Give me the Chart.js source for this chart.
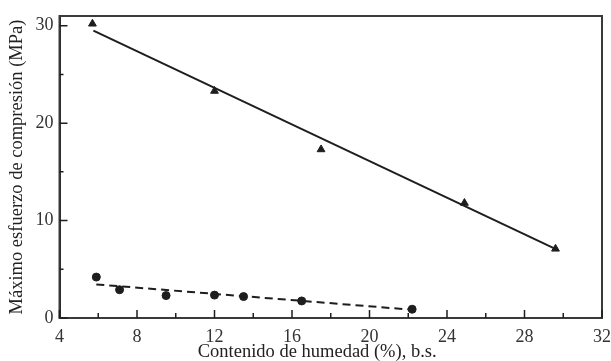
<!DOCTYPE html>
<html>
<head>
<meta charset="utf-8">
<script src="https://cdn.jsdelivr.net/npm/chart.js@4.4.1/dist/chart.umd.min.js"></script>
<style>
  html, body { margin: 0; padding: 0; background: #fff; }
  #wrap { width: 611px; height: 361px; }
</style>
</head>
<body>
<div id="wrap"><canvas id="chart" width="611" height="361"></canvas></div>
<script>
// triangles: measured points and fitted line
const triX = [5.7, 12.0, 17.5, 24.9, 29.6];
const triY = [30.2, 23.3, 17.3, 11.8, 7.1];
const fitTriX = [5.75, 29.7];
const fitTriY = [29.5, 7.0];

// circles: measured points and fitted dashed line
const dotX = [5.9, 7.1, 9.5, 12.0, 13.5, 16.5, 22.2];
const dotY = [4.2, 2.9, 2.3, 2.35, 2.2, 1.75, 0.9];
const fitDotX = [5.9, 22.2];
const fitDotY = [3.45, 0.85];

// axis ticks
const xMajor = [4, 8, 12, 16, 20, 24, 28, 32];
const xMinor = [6, 10, 14, 18, 22, 26, 30];
const yMajor = [0, 10, 20, 30];
const yMinor = [5, 15, 25];

const xTitle = "Contenido de humedad (%), b.s.";
const yTitle = "Máximo esfuerzo de compresión (MPa)";

const ink = "#1e1e1e";
const serif = "'Liberation Serif', 'DejaVu Serif', serif";

function toPoints(xs, ys) {
  return xs.map((x, i) => ({ x: x, y: ys[i] }));
}

// frame on top/right, inward tick marks, and the x title (sits left of the axis centre)
const frameTicks = {
  id: "frameTicks",
  afterDraw(chart) {
    const ctx = chart.ctx;
    const area = chart.chartArea;
    const xs = chart.scales.x;
    const ys = chart.scales.y;
    ctx.save();
    ctx.strokeStyle = "#3a3a3a";
    ctx.lineWidth = 2;
    ctx.strokeRect(area.left, area.top, area.right - area.left, area.bottom - area.top);

    ctx.strokeStyle = ink;
    ctx.lineWidth = 1.5;
    ctx.beginPath();
    xMajor.forEach((v) => {
      const px = xs.getPixelForValue(v);
      ctx.moveTo(px, area.bottom);
      ctx.lineTo(px, area.bottom - 8);
    });
    xMinor.forEach((v) => {
      const px = xs.getPixelForValue(v);
      ctx.moveTo(px, area.bottom);
      ctx.lineTo(px, area.bottom - 5);
    });
    yMajor.forEach((v) => {
      const py = ys.getPixelForValue(v);
      ctx.moveTo(area.left, py);
      ctx.lineTo(area.left + 8, py);
    });
    yMinor.forEach((v) => {
      const py = ys.getPixelForValue(v);
      ctx.moveTo(area.left, py);
      ctx.lineTo(area.left + 4, py);
    });
    ctx.stroke();

    ctx.fillStyle = "#222";
    ctx.font = "18.5px " + serif;
    ctx.textAlign = "center";
    ctx.textBaseline = "middle";
    ctx.fillText(xTitle, xs.getPixelForValue(17.3), 352);
    ctx.restore();
  }
};

new Chart(document.querySelector("#chart"), {
  type: "scatter",
  data: {
    datasets: [
      {
        data: toPoints(fitTriX, fitTriY),
        showLine: true,
        borderColor: ink,
        borderWidth: 2,
        pointRadius: 0
      },
      {
        data: toPoints(fitDotX, fitDotY),
        showLine: true,
        borderColor: ink,
        borderWidth: 2,
        borderDash: [8, 5],
        pointRadius: 0
      },
      {
        data: toPoints(triX, triY),
        pointStyle: "triangle",
        pointRadius: 4.5,
        backgroundColor: ink,
        borderColor: ink,
        borderWidth: 1
      },
      {
        data: toPoints(dotX, dotY),
        pointStyle: "circle",
        pointRadius: 4,
        backgroundColor: ink,
        borderColor: ink,
        borderWidth: 1
      }
    ]
  },
  options: {
    responsive: false,
    animation: false,
    layout: { padding: { top: 16, right: 9, left: 0, bottom: 0 } },
    plugins: {
      legend: { display: false },
      tooltip: { enabled: false }
    },
    scales: {
      x: {
        type: "linear",
        min: 4,
        max: 32,
        afterBuildTicks: (scale) => { scale.ticks = xMajor.map((v) => ({ value: v })); },
        afterFit: (scale) => {
          scale.height = 43;
          scale.paddingLeft = 0;
          scale.paddingRight = 0;
        },
        grid: { display: false, drawTicks: false },
        border: { display: true, color: ink, width: 2 },
        ticks: {
          padding: 8,
          color: "#333",
          font: { family: serif, size: 18 },
          maxRotation: 0
        }
      },
      y: {
        type: "linear",
        min: 0,
        max: 31,
        afterBuildTicks: (scale) => { scale.ticks = yMajor.map((v) => ({ value: v })); },
        afterFit: (scale) => {
          scale.width = 59.5;
          scale.paddingTop = 0;
          scale.paddingBottom = 0;
        },
        grid: { display: false, drawTicks: false },
        border: { display: true, color: ink, width: 2 },
        ticks: {
          padding: 6,
          color: "#333",
          font: { family: serif, size: 18 }
        },
        title: {
          display: true,
          text: yTitle,
          color: "#222",
          font: { family: serif, size: 18.5, lineHeight: 1 },
          padding: { top: 8, bottom: 0 }
        }
      }
    }
  },
  plugins: [frameTicks]
});
</script>
</body>
</html>
